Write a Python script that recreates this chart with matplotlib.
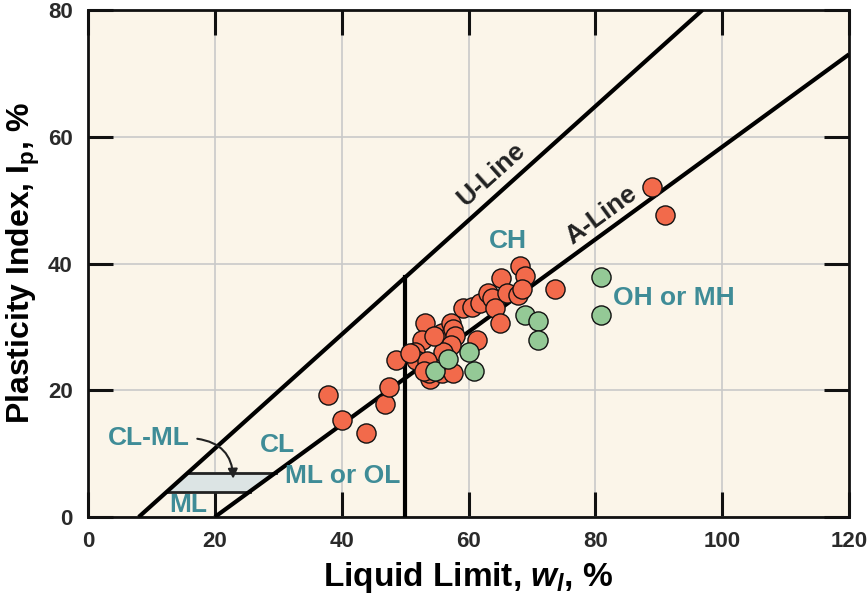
import matplotlib
matplotlib.use("Agg")
import matplotlib.pyplot as plt
import numpy as np

plt.rcParams['font.family'] = ['Liberation Sans', 'DejaVu Sans']
plt.rcParams['mathtext.fontset'] = 'custom'
plt.rcParams['mathtext.rm'] = 'Liberation Sans:bold'
plt.rcParams['mathtext.it'] = 'Liberation Sans:bold:italic'
plt.rcParams['mathtext.bf'] = 'Liberation Sans:bold'

# Data: fine-grained soils (red) and organic / high plasticity silts (green)
red_ll = [37.9, 40.0, 43.9, 46.8, 47.5, 48.5, 53.1, 52.6, 51.6, 51.8, 53.9, 53.7,
          55.8, 55.8, 56.6, 57.3, 57.6, 57.9, 57.3, 56.0, 57.6, 54.5, 59.2, 60.5,
          61.8, 63.1, 63.7, 64.2, 65.0, 61.3, 65.2, 66.0, 68.1, 68.9, 67.8, 68.4,
          73.6, 89.0, 91.0, 53.4, 53.0, 50.8]
red_pi = [19.2, 15.3, 13.3, 17.8, 20.5, 24.7, 30.6, 28.0, 26.1, 24.8, 21.7, 22.7,
          29.0, 22.7, 28.3, 30.6, 29.6, 28.5, 27.2, 26.1, 22.7, 28.5, 33.0, 33.2,
          33.8, 35.4, 34.6, 33.0, 30.6, 28.0, 37.7, 35.4, 39.6, 38.0, 35.1, 35.9,
          36.0, 52.1, 47.6, 24.6, 23.0, 25.9]
green_ll = [54.7, 56.8, 60.0, 60.9, 68.9, 70.9, 70.9, 80.9, 80.9]
green_pi = [23.0, 25.0, 26.0, 23.0, 31.9, 31.0, 28.0, 37.9, 31.9]

u_line_ll = [8, 96.9]
a_line_ll = [20, 120]
ll_boundary = 50
clml_pi = [4, 7]

fig = plt.figure(figsize=(8.67, 5.96), dpi=100)
ax = fig.add_axes([88/867, 1-517/596, (849-88)/867, (517-10)/596])
ax.set_facecolor('#FBF5E9')

ax.set_xlim(0, 120)
ax.set_ylim(0, 80)
ax.set_xticks(np.arange(0, 121, 20))
ax.set_yticks(np.arange(0, 81, 20))
ax.grid(True, color='#C9C9C9', linewidth=1.2, zorder=0)
ax.set_axisbelow(True)

def u_line(x):
    return 0.9 * (np.asarray(x) - 8)

def a_line(x):
    return 0.73 * (np.asarray(x) - 20)

# CL-ML band
lo, hi = clml_pi
uxl, uxh = 8 + lo / 0.9, 8 + hi / 0.9
axl, axh = 20 + lo / 0.73, 20 + hi / 0.73
ax.fill([uxl, axl, axh, uxh], [lo, lo, hi, hi], color='#DCE4E4', zorder=1)
ax.plot([uxl, axl], [lo, lo], color='#222222', lw=2, zorder=2)
ax.plot([uxh, axh], [hi, hi], color='#222222', lw=2, zorder=2)

ax.plot(u_line_ll, u_line(u_line_ll), color='black', lw=3, zorder=3, solid_capstyle='butt')
ax.plot(a_line_ll, a_line(a_line_ll), color='black', lw=3, zorder=3, solid_capstyle='butt')
ax.plot([ll_boundary, ll_boundary], [0, u_line(ll_boundary)], color='black', lw=3, zorder=3)

ax.scatter(red_ll, red_pi, s=190, color='#F26A4B', edgecolor='#111111', linewidth=1, zorder=5)
ax.scatter(green_ll, green_pi, s=190, color='#94C996', edgecolor='#111111', linewidth=1, zorder=6)

teal = '#3F8C97'
fs = 19
ax.text(9.6, 12.4, 'CL-ML', color=teal, fontsize=fs, fontweight='bold', ha='center', va='center')
ax.text(29.8, 11.4, 'CL', color=teal, fontsize=fs, fontweight='bold', ha='center', va='center')
ax.text(40.2, 6.4, 'ML or OL', color=teal, fontsize=fs, fontweight='bold', ha='center', va='center')
ax.text(15.8, 1.9, 'ML', color=teal, fontsize=fs, fontweight='bold', ha='center', va='center')
ax.text(66.2, 43.6, 'CH', color=teal, fontsize=fs, fontweight='bold', ha='center', va='center')
ax.text(92.4, 34.6, 'OH or MH', color=teal, fontsize=fs, fontweight='bold', ha='center', va='center')

ax.text(63.6, 54.1, 'U-Line', color='#222222', fontsize=fs, fontweight='bold',
        ha='center', va='center', rotation=41.9, rotation_mode='anchor')
ax.text(81.0, 47.7, 'A-Line', color='#222222', fontsize=fs, fontweight='bold',
        ha='center', va='center', rotation=36.1, rotation_mode='anchor')

ax.annotate('', xy=(22.9, 5.6), xytext=(16.8, 12.4),
            arrowprops=dict(arrowstyle='-|>', color='#222222', lw=1.5,
                            connectionstyle='arc3,rad=-0.45', mutation_scale=14),
            zorder=7)

for s in ax.spines.values():
    s.set_linewidth(2)
    s.set_color('#111111')
ax.tick_params(direction='in', length=18, width=2.2, top=True, right=True,
               labelsize=16, colors='#111111', labelcolor='#2A2A2A')
ax.tick_params(axis='x', pad=10)
ax.tick_params(axis='y', pad=11)
for lab in ax.get_xticklabels() + ax.get_yticklabels():
    lab.set_fontweight('bold')

ax.set_xlabel(r'Liquid Limit, $w_l$, %', fontsize=24, fontweight='bold', labelpad=6)
ax.set_ylabel(r'Plasticity Index, I$_{\rm p}$, %', fontsize=23, fontweight='bold', labelpad=4)

fig.savefig('out.png', dpi=100)
